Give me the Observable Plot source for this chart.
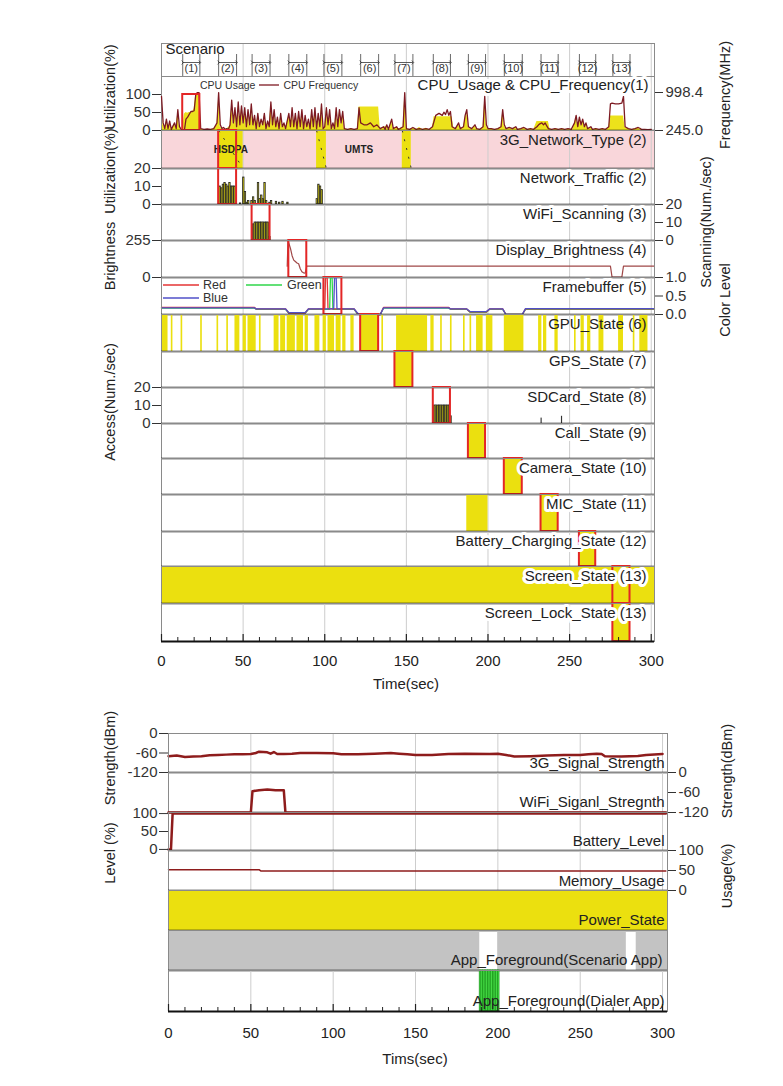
<!DOCTYPE html>
<html><head><meta charset="utf-8">
<script src="https://cdn.jsdelivr.net/npm/d3@7"></script>
<script src="https://cdn.jsdelivr.net/npm/@observablehq/plot@0.6"></script>
<style>
body{margin:0;background:#fff;font-family:"Liberation Sans",Arial,sans-serif;}
#wrap{position:relative;width:783px;height:1086px;overflow:hidden;background:#fff;}
.layer{position:absolute;left:0;}
.vt{position:absolute;transform:translate(-50%,-50%) rotate(-90deg);white-space:nowrap;font-size:14.5px;color:#222;}
.ht{position:absolute;transform:translate(-50%,-50%);white-space:nowrap;font-size:15px;color:#222;}
.lg{position:absolute;white-space:nowrap;color:#333;display:flex;align-items:center;}
</style></head><body><div id="wrap"></div>
<script>
// ---------------- DATA ----------------
const topTicks = [0, 50, 100, 150, 200, 250, 300];
const minorTicks = [10, 20, 30, 40, 60, 70, 80, 90, 110, 120, 130, 140, 160, 170, 180, 190, 210, 220, 230, 240, 260, 270, 280, 290];
const gridTicks = [50, 100, 150, 200, 250, 300];

const scenarioLabels = ["(1)","(2)","(3)","(4)","(5)","(6)","(7)","(8)","(9)","(10)","(11)","(12)","(13)"];
const scenarioStart = [13, 35, 55.5, 78, 99.5, 122, 143, 166.5, 188, 210, 232.5, 256, 276.5];
const scenarioEnd   = [23.5, 46, 66.5, 89, 110.5, 133, 154, 177, 198.5, 221, 243, 266, 287];

// CPU usage (%) [time, value]
const cpuUsage = [[0,60],[1,15],[2,5],[3,25],[4,5],[5,20],[6,3],[8,18],[9,5],[10,50],[11,8],[12,0],[13,5],[14,45],[15,50],[16,48],[17,50],[18,50],[19,52],[20,60],[21,100],[23,100],[23.5,0],[24,3],[26,2],[28,3],[30,2],[32,4],[34,15],[35,90],[36,10],[37,4],[39,2],[40,4],[42,12],[43,70],[44,15],[45,55],[46,8],[47,65],[48,12],[49,60],[50,15],[51,55],[52,8],[53,50],[54,10],[55,60],[56,10],[57,35],[58,4],[59,40],[60,8],[61,25],[62,10],[63,40],[64,4],[65,20],[66,8],[67,70],[68,12],[69,50],[70,8],[71,30],[72,4],[73,40],[74,8],[75,15],[76,4],[78,40],[79,8],[80,55],[81,8],[82,40],[83,4],[84,45],[85,8],[86,50],[87,4],[88,35],[89,8],[90,25],[91,4],[92,50],[93,8],[94,55],[95,4],[96,40],[97,8],[98,65],[99,4],[100,8],[101,55],[102,12],[103,50],[104,4],[105,15],[106,4],[107,55],[108,8],[109,50],[110,15],[111,45],[112,4],[114,2],[116,4],[118,2],[120,4],[121,65],[133,65],[134,5],[136,8],[138,12],[139,2],[141,25],[142,4],[144,8],[146,4],[148,8],[149,95],[150,4],[152,2],[154,6],[156,2],[158,8],[160,3],[162,6],[164,2],[166,8],[167,38],[178,38],[179,8],[180,4],[182,18],[183,4],[185,8],[186,35],[187,50],[188,8],[190,4],[192,12],[193,4],[195,2],[197,8],[198,85],[199,12],[200,4],[202,4],[204,2],[206,4],[208,8],[209,50],[210,12],[211,4],[213,6],[215,4],[217,8],[218,2],[220,4],[222,6],[224,2],[226,4],[228,2],[230,25],[237,25],[238,4],[240,2],[242,4],[244,2],[246,4],[248,2],[250,4],[252,2],[253,18],[254,38],[255,8],[256,32],[257,12],[258,28],[259,8],[260,18],[261,4],[263,8],[264,2],[266,4],[268,2],[270,4],[272,2],[274,8],[275,40],[283,40],[284,8],[286,4],[288,2],[290,4],[292,6],[294,2],[296,2],[298,2],[300,2]];

// CPU frequency (MHz) [time, value]
const cpuFreq = [[0,923],[1,396],[2,283],[3,471],[4,283],[5,433],[6,268],[8,396],[9,283],[10,659],[11,320],[12,268],[13,245],[14,245],[15,471],[16,509],[18,622],[19,622],[20,637],[21,961],[22,998],[23,998],[24,283],[26,268],[28,275],[30,268],[32,283],[34,396],[35,998],[36,358],[37,283],[38,305],[39,268],[40,283],[41,268],[42,358],[43,848],[44,396],[45,697],[46,320],[47,810],[48,358],[49,735],[50,396],[51,697],[52,320],[53,659],[54,358],[55,772],[56,358],[57,546],[58,283],[59,584],[60,320],[61,471],[62,358],[63,584],[64,283],[65,433],[66,320],[67,810],[68,358],[69,659],[70,320],[71,509],[72,283],[73,584],[74,320],[75,396],[76,283],[78,584],[79,320],[80,697],[81,320],[82,584],[83,283],[84,622],[85,320],[86,659],[87,283],[88,546],[89,320],[90,471],[91,283],[92,659],[93,320],[94,697],[95,283],[96,584],[97,320],[98,772],[99,283],[100,320],[101,697],[102,358],[103,659],[104,283],[105,396],[106,283],[107,697],[108,320],[109,659],[110,396],[111,622],[112,283],[114,268],[116,283],[118,268],[120,283],[121,697],[122,396],[124,358],[126,358],[128,396],[130,320],[132,358],[134,283],[136,320],[137,268],[138,358],[139,268],[141,471],[142,283],[144,320],[145,268],[146,283],[148,320],[149,998],[150,283],[152,268],[154,305],[156,268],[158,283],[160,268],[162,283],[164,268],[166,320],[168,546],[170,584],[172,546],[173,607],[174,561],[175,659],[176,546],[177,622],[178,320],[180,283],[182,396],[183,283],[185,320],[186,546],[187,659],[188,320],[190,283],[192,358],[193,283],[195,268],[197,320],[198,923],[199,358],[200,283],[202,283],[204,268],[206,283],[208,320],[209,659],[210,358],[211,283],[213,305],[215,283],[217,320],[218,268],[220,283],[222,305],[224,268],[226,283],[228,268],[230,320],[231,358],[232,381],[233,396],[234,358],[235,396],[236,335],[237,283],[239,268],[241,283],[243,268],[245,283],[247,268],[249,283],[251,268],[253,396],[254,546],[255,320],[256,509],[257,358],[258,471],[259,320],[260,396],[261,283],[263,320],[264,268],[266,283],[268,268],[270,283],[272,268],[274,320],[275,772],[276,787],[278,772],[280,772],[282,787],[283,923],[284,320],[286,283],[288,268],[290,283],[292,305],[293,290],[294,268],[296,268],[298,260],[300,268]];

// 3G network type
const netTypeChange = [[35, 50], [95, 101], [147.5, 153]];
const netTypeNames = [{t: 42.5, name: "HSDPA"}, {t: 121, name: "UMTS"}];

// Network traffic (utilization %) [time, value]
const netTraffic = [[35.5,10],[36.5,9],[37.5,11],[38.5,12],[39.5,11],[40.5,10],[41.5,12],[42.5,10],[43.5,10],[44.5,10],[48,0.6],[50,15],[51,7],[52,1],[53,2],[55,2],[56,4],[57,2],[59,12],[60,3],[61,5],[62,3],[63,12],[64,2],[66,1],[67,2],[70,1.5],[72,1],[74,1.5],[77,1],[95,3],[96,11],[97,10],[98,8]];

// WiFi scanning (num/sec)
const wifiScan = [[56,9],[57,10],[58,10],[59,10],[60,10],[61,10],[62,10],[63,10],[64,10],[65,10],[66,2]];

// Display brightness
const brightness = [[77,78],[77.5,255],[79,200],[80,150],[81,120],[82,110],[83,100],[84,95],[85,60],[86,40],[87,32],[88,30],[89,78],[275,78],[276,2],[282,2],[283,78],[302,78]];

// Framebuffer colour levels
const fbRed   = [[0,.19],[57,.19],[58,.15],[76,.15],[78,.04],[88,.04],[90,.15],[100,.15],[100.5,1],[101.5,1],[102,.15],[110,.15],[118,.15],[120,.03],[122,0],[134,0],[136,.19],[176,.19],[177,.15],[187,.15],[189,.07],[199,.07],[201,.15],[209,.15],[211,0],[221,0],[223,.15],[302,.15]];
const fbGreen = [[0,.17],[57,.17],[58,.14],[76,.14],[78,.03],[88,.03],[90,.14],[103,.14],[103.5,1],[104.5,1],[105,.14],[110,.14],[118,.14],[120,.02],[122,0],[134,0],[136,.17],[176,.17],[177,.14],[187,.14],[189,.06],[199,.06],[201,.14],[209,.14],[211,0],[221,0],[223,.14],[302,.14]];
const fbBlue  = [[0,.18],[57,.18],[58,.15],[76,.15],[78,.05],[88,.05],[90,.15],[105.5,.15],[106,1],[107,1],[107.5,.15],[110,.15],[118,.15],[120,.04],[122,0],[134,0],[136,.18],[176,.18],[177,.15],[187,.15],[189,.08],[199,.08],[201,.15],[209,.15],[211,0],[221,0],[223,.16],[302,.16]];

// GPU state on-intervals
const gpuOn = [[0,4],[6,7],[12,13],[24,25],[34,35],[40,41],[45,48],[50,52],[53,58],[60,61],[69,72],[73,76],[77,82],[83,87],[88,90],[94,97],[99,101],[102,106],[107,110],[111,113],[116,118],[122,133],[135,136],[144,163],[165,167],[171,172],[177,178],[185,186],[189,190],[193,197],[199,203],[210,222],[231,233],[234,236],[241,243],[253,254],[257,259],[261,263],[268,271],[280,283],[289,290],[293,298]];
const gpsOn = [[143,154]];
const sdAccess = [[167,10],[168,10],[169,10],[170,10],[171,10],[172,10],[173,10],[174,10],[175,10],[176,10],[177,4]];
const sdSmall = [[232.5,3],[245,4]];
const callOn = [[188,198.5]];
const cameraOn = [[210,221]];
const micOn = [[187,200],[232.5,243]];
const chargingOn = [[256,266]];
const screenOn = [[0,302]];
const lockOn = [[276.5,287]];

// Bottom chart
const bottomTicks = [0, 50, 100, 150, 200, 250, 300];
const sig3G = [[0,-70],[5,-68],[10,-72],[15,-71],[20,-70],[25,-67],[30,-66],[35,-65],[40,-64],[45,-64],[50,-63],[53,-60],[55,-56],[60,-58],[62,-62],[64,-57],[66,-63],[70,-63],[75,-62],[80,-60],[90,-60],[100,-61],[105,-64],[115,-64],[125,-62],[135,-60],[140,-62],[145,-64],[150,-66],[160,-66],[170,-63],[180,-62],[195,-63],[200,-62],[205,-66],[210,-71],[220,-70],[230,-68],[240,-66],[250,-66],[255,-64],[260,-62],[263,-63],[265,-70],[275,-71],[285,-69],[290,-66],[300,-63]];
const sigWifi = [[0,-120],[50,-120],[51,-56],[55,-53],[60,-51],[65,-53],[70,-53],[71,-120],[302,-120]];
const batteryLevel = [[0,0],[1.5,0],[2.5,100],[302,100]];
const memoryUsage = [[0,52],[55,52],[56,49],[302,49]];
const powerOn = [[0,303]];
const scenarioAppGaps = [[0,189],[200,278],[284,303]];
const dialerOn = [189,190,191,192,193,194,195,196,197,198,199,200];

// ---------------- RENDER ----------------
const W = 783;
const FONT = "'Liberation Sans', Arial, sans-serif";
const YEL = "#ebe00f", RED = "#e32626", MAROON = "#7d1a22";
const wrap = document.getElementById("wrap");
const TOPX = {ml: 161, mr: 129, domain: [0, 302]};
const BOTX = {ml: 168, mr: 116, domain: [0, 303]};
const plain = d => `${d}`;

function place(svg, top) {
  const d = document.createElement("div");
  d.className = "layer"; d.style.top = top + "px";
  d.appendChild(svg); wrap.appendChild(d);
}
function row(top, h, yopts, marks, X = TOPX) {
  const svg = Plot.plot({
    width: W, height: h, marginTop: 0, marginBottom: 0, marginLeft: X.ml, marginRight: X.mr,
    x: {domain: X.domain, axis: null},
    y: {...yopts, axis: null},
    style: {background: "transparent", overflow: "visible", fontFamily: FONT, fontSize: "15px", color: "#222"},
    marks
  });
  place(svg, top);
}
function div(cls, html, x, y, extra = "") {
  const d = document.createElement("div");
  d.className = cls; d.innerHTML = html;
  d.style.cssText += `left:${x}px;top:${y}px;${extra}`;
  wrap.appendChild(d);
}
const scen = i => [{s: scenarioStart[i - 1], e: scenarioEnd[i - 1]}];
const box = (i, o = {}) => Plot.rect(scen(i), {x1: "s", x2: "e", stroke: RED, strokeWidth: 2, fill: "none", ...o});
const blocks = (arr, fill = YEL) => Plot.rect(arr, {x1: d => d[0], x2: d => d[1], fill});
const grid = () => Plot.ruleX(gridTicks, {stroke: "#cdcdcd"});
const frame = () => Plot.frame({stroke: "#8a8a8a"});
const sep = (v, w = 1.5) => Plot.ruleY([v], {stroke: "#111", strokeWidth: w});
const label = (t, halo = true, anchor = "top-right", dx = -8, dy = 4) =>
  Plot.text([t], {text: d => d, frameAnchor: anchor, dx, dy, fontSize: 15, fill: "#222",
    ...(halo ? {stroke: "white", strokeWidth: 6} : {})});
const axL = (ticks, fmt = plain) => Plot.axisY({anchor: "left", ticks, tickSize: 9, tickPadding: 2, fontSize: 15, color: "#333", label: null, tickFormat: fmt});
const axR = (ticks, fmt = plain) => Plot.axisY({anchor: "right", ticks, tickSize: 8, tickPadding: 3, fontSize: 15, color: "#333", label: null, tickFormat: fmt});
const bars = (arr, w = 0.85) => Plot.rectY(arr, {x1: d => d[0], x2: d => d[0] + w, y: d => d[1], fill: YEL, stroke: "#222", strokeWidth: 0.8});

// Header (scenario)
const scenData = scenarioLabels.map((l, i) => ({l, s: scenarioStart[i], e: scenarioEnd[i]}));
row(43, 33, {type: "point", domain: ["arrow", "label"], range: [16, 28]}, [
  grid(),
  Plot.ruleX(scenData.flatMap(d => [d.s, d.e]), {insetTop: 11, stroke: "#444", strokeWidth: 0.8}),
  Plot.link(scenData, {x1: "s", x2: "e", y1: () => "arrow", y2: () => "arrow", stroke: "#333", strokeWidth: 0.8, markerStart: "arrow", markerEnd: "arrow"}),
  Plot.text(scenData, {x: d => (d.s + d.e) / 2, y: () => "label", text: "l", fontSize: 11, fill: "#333"}),
  Plot.text(["Scenario"], {text: d => d, frameAnchor: "top-left", dx: 4, dy: 0, fontSize: 15, fill: "#222"}),
  frame()
]);

// CPU row (usage layer)
row(76, 54, {domain: [0, 150]}, [
  grid(),
  Plot.areaY(cpuUsage, {x: d => d[0], y: d => d[1], fill: YEL, fillOpacity: 0.95}),
  axL([0, 50, 100]), frame()
]);
// CPU row (frequency layer)
row(76, 54, {domain: [245, 1316]}, [
  Plot.line(cpuFreq, {x: d => d[0], y: d => d[1], stroke: MAROON, strokeWidth: 1.3}),
  axR([245, 998.4], d3.format(".1f"))
]);
// CPU row (box/label layer)
row(76, 54, {domain: [0, 150]}, [
  Plot.rect(scen(1), {x1: "s", x2: "e", y1: () => 0, y2: () => 100, stroke: RED, strokeWidth: 2, fill: "none"}),
  label("CPU_Usage & CPU_Frequency(1)", true, "top-right", -6, 3),
  sep(0)
]);

// 3G network type
row(130, 38, {domain: [0, 1]}, [
  Plot.rect([[0, 302]], {x1: d => d[0], x2: d => d[1], fill: "#f9d6da"}),
  grid(),
  blocks(netTypeChange),
  Plot.link(netTypeChange, {x1: d => d[0], x2: d => d[1], y1: () => 1, y2: () => 0, stroke: "#333", strokeDasharray: "2,7", strokeWidth: 1}),
  Plot.text(netTypeNames, {x: "t", text: "name", frameAnchor: "middle", fontSize: 10, fontWeight: "bold", fill: "#222"}),
  box(2), label("3G_Network_Type (2)", false), frame(), sep(0)
]);

// Network traffic
row(168, 36, {domain: [0, 20]}, [
  grid(), bars(netTraffic), axL([0, 10, 20]), box(2), label("Network_Traffic (2)"), frame(), sep(0)
]);

// WiFi scanning
row(204, 36, {domain: [0, 20]}, [
  grid(), bars(wifiScan), axR([0, 10, 20]), box(3), label("WiFi_Scanning (3)"), frame(), sep(0)
]);

// Display brightness
row(240, 37, {domain: [0, 255]}, [
  grid(), Plot.line(brightness, {x: d => d[0], y: d => d[1], stroke: "#a04848", strokeWidth: 1.2}),
  axL([0, 255]), box(4), label("Display_Brightness (4)"), frame(), sep(0)
]);

// Framebuffer
row(277, 37, {domain: [0, 1]}, [
  grid(),
  Plot.line(fbGreen, {x: d => d[0], y: d => d[1], stroke: "#2fd64a", strokeWidth: 1.3}),
  Plot.line(fbRed, {x: d => d[0], y: d => d[1], stroke: "#e43535", strokeWidth: 1.3}),
  Plot.line(fbBlue, {x: d => d[0], y: d => d[1], stroke: "#5050c8", strokeWidth: 1.3}),
  axR([0, 0.5, 1], d3.format(".1f")), box(5), label("Framebuffer (5)"), frame(), sep(0)
]);

// GPU
row(314, 37, {domain: [0, 1]}, [grid(), blocks(gpuOn), box(6), label("GPU_State (6)", false), frame(), sep(0)]);
// GPS
row(351, 36, {domain: [0, 1]}, [grid(), blocks(gpsOn), box(7), label("GPS_State (7)"), frame(), sep(0)]);
// SDCard
row(387, 36, {domain: [0, 20]}, [
  grid(), bars(sdAccess, 0.8),
  Plot.rectY(sdSmall, {x1: d => d[0], x2: d => d[0] + 0.7, y: d => d[1], fill: "#333"}),
  axL([0, 10, 20]), box(8), label("SDCard_State (8)"), frame(), sep(0)
]);
// Call
row(423, 35, {domain: [0, 1]}, [grid(), blocks(callOn), box(9), label("Call_State (9)"), frame(), sep(0)]);
// Camera
row(458, 36, {domain: [0, 1]}, [grid(), blocks(cameraOn), box(10), label("Camera_State (10)"), frame(), sep(0)]);
// MIC
row(494, 37, {domain: [0, 1]}, [grid(), blocks(micOn), box(11), label("MIC_State (11)"), frame(), sep(0)]);
// Battery charging
row(531, 35, {domain: [0, 1]}, [grid(), blocks(chargingOn), box(12), label("Battery_Charging_State (12)"), frame(), sep(0)]);
// Screen
row(566, 37, {domain: [0, 1]}, [grid(), blocks(screenOn), box(13), label("Screen_State (13)"), frame(), sep(0)]);
// Screen lock + x axis
row(603, 38, {domain: [0, 1]}, [
  grid(), blocks(lockOn), box(13), label("Screen_Lock_State (13)"), frame(),
  Plot.ruleX(topTicks, {insetTop: 31, stroke: "#222", strokeWidth: 1.2}),
  Plot.ruleX(minorTicks, {insetTop: 34, stroke: "#222", strokeWidth: 1}),
  sep(0, 2),
  Plot.axisX({ticks: topTicks, tickSize: 0, tickPadding: 14, fontSize: 15, color: "#222", label: null, tickFormat: plain})
]);

// Bottom chart
row(733, 39, {domain: [-120, 0]}, [
  grid(), Plot.line(sig3G, {x: d => d[0], y: d => d[1], stroke: "#8e1c1c", strokeWidth: 2.5}),
  axL([-120, -60, 0]), label("3G_Signal_Strength", false, "bottom-right", -3, -5), frame(), sep(-120)
], BOTX);
row(772, 40, {domain: [-120, 0]}, [
  grid(), axR([-120, -60, 0]), label("WiFi_Siganl_Stregnth", false, "bottom-right", -3, -6), frame(), sep(-120),
  Plot.line(sigWifi, {x: d => d[0], y: d => d[1], stroke: "#8e1c1c", strokeWidth: 2.5})
], BOTX);
row(812, 38, {domain: [-3, 103]}, [
  grid(), Plot.line(batteryLevel, {x: d => d[0], y: d => d[1], stroke: "#8e1c1c", strokeWidth: 2.5}),
  axL([0, 50, 100]), label("Battery_Level", false, "bottom-right", -3, -5), frame(), sep(-3)
], BOTX);
row(850, 40, {domain: [0, 100]}, [
  grid(), Plot.line(memoryUsage, {x: d => d[0], y: d => d[1], stroke: "#8e1c1c", strokeWidth: 1.5}),
  axR([0, 50, 100]), label("Memory_Usage", false, "bottom-right", -3, -5), frame(), sep(0)
], BOTX);
row(890, 40, {domain: [0, 1]}, [
  blocks(powerOn), label("Power_State", false, "bottom-right", -3, -6), frame(), sep(0)
], BOTX);
row(930, 40, {domain: [0, 1]}, [
  grid(), blocks(scenarioAppGaps, "#c3c3c3"), label("App_Foreground(Scenario App)", false, "bottom-right", -5, -6), frame(), sep(0)
], BOTX);
row(970, 41, {domain: [0, 1]}, [
  grid(),
  Plot.rect(dialerOn, {x1: d => d, x2: d => d + 1, fill: "#4ee84e", stroke: "#1c9a1c", strokeWidth: 0.8}),
  label("App_Foreground(Dialer App)", false, "bottom-right", -3, -6), frame(),
  Plot.ruleX(bottomTicks, {insetTop: 34, stroke: "#222", strokeWidth: 1.2}),
  Plot.ruleX(minorTicks, {insetTop: 37, stroke: "#222", strokeWidth: 1}),
  sep(0, 2),
  Plot.axisX({ticks: bottomTicks, tickSize: 0, tickPadding: 16, fontSize: 15, color: "#222", label: null, tickFormat: plain})
], BOTX);

// Axis titles and legends
div("vt", "Utilization(%)", 110, 87);
div("vt", "Utilization(%)", 110, 171);
div("vt", "Brightness", 110, 256);
div("vt", "Access(Num./sec)", 110, 402);
div("vt", "Frequency(MHz)", 725, 95);
div("vt", "Scanning(Num./sec)", 706, 222);
div("vt", "Color Level", 725, 300);
div("ht", "Time(sec)", 406, 683);
div("vt", "Strength(dBm)", 110, 758);
div("vt", "Level (%)", 110, 853);
div("vt", "Strength(dBm)", 727, 771);
div("vt", "Usage(%)", 727, 876);
div("ht", "Tims(sec)", 415, 1058);

div("lg", `<span>CPU Usage</span><svg width="22" height="6" style="margin:0 3px"><line x1="1" y1="3" x2="21" y2="3" stroke="${MAROON}" stroke-width="1.3"/></svg><span>CPU Frequency</span>`, 200, 79, "font-size:10.5px;");
div("lg", `<svg width="36" height="6" style="margin-right:4px"><line x1="0" y1="3" x2="36" y2="3" stroke="#e43535" stroke-width="1.3"/></svg><span>Red</span><svg width="36" height="6" style="margin:0 5px 0 20px"><line x1="0" y1="3" x2="36" y2="3" stroke="#2fd64a" stroke-width="1.3"/></svg><span>Green</span>`, 163, 279, "font-size:12.5px;line-height:12px;height:12px;");
div("lg", `<svg width="36" height="6" style="margin-right:4px"><line x1="0" y1="3" x2="36" y2="3" stroke="#5050c8" stroke-width="1.3"/></svg><span>Blue</span>`, 163, 292, "font-size:12.5px;line-height:12px;height:12px;");
</script></body></html>
